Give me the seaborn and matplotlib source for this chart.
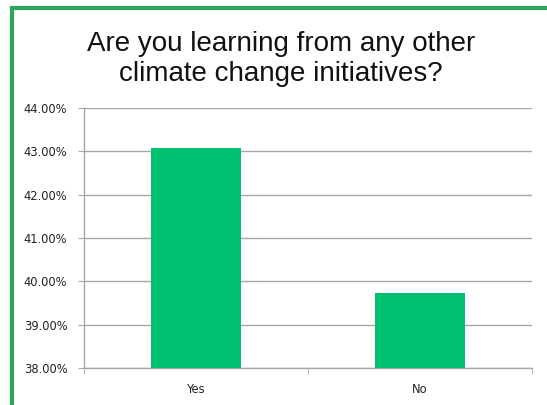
import matplotlib
matplotlib.use("Agg")
import matplotlib.pyplot as plt
import matplotlib.patches as patches
from matplotlib.ticker import FuncFormatter, FixedLocator
import seaborn as sns
import pandas as pd

categories = ["Yes", "No"]
values = [43.08, 39.74]
title = "Are you learning from any other\nclimate change initiatives?"

W, H = 547, 405
sns.set_style("white")
plt.rcParams["font.family"] = ["Liberation Sans", "DejaVu Sans"]

fig = plt.figure(figsize=(W / 100, H / 100), dpi=100)
# axes box in pixels: x 84..532, y 108..368
ax = fig.add_axes([84 / W, 1 - 368 / H, (532 - 84) / W, (368 - 108) / H])

df = pd.DataFrame({"answer": categories, "pct": values})
sns.barplot(data=df, x="answer", y="pct", color="#00BF6F", saturation=1,
            width=0.4, ax=ax, zorder=3, edgecolor="none", linewidth=0)

ax.set_ylim(38, 44)
ax.set_xlim(-0.5, 1.5)
ax.set_yticks(range(38, 45))
ax.yaxis.set_major_formatter(FuncFormatter(lambda v, p: f"{v:.2f}%"))
ax.grid(axis="y", color="#a6a6a6", linewidth=1, zorder=0)
ax.set_xlabel("")
ax.set_ylabel("")

for s in ["top", "right"]:
    ax.spines[s].set_visible(False)
for s in ["left", "bottom"]:
    ax.spines[s].set_color("#a6a6a6")
    ax.spines[s].set_linewidth(1)

ax.tick_params(axis="y", length=4, color="#a6a6a6", labelsize=8.3,
               labelcolor="#222222", pad=8, left=True)
ax.tick_params(axis="x", length=0, labelsize=8.3, labelcolor="#222222", pad=11)
ax.xaxis.set_minor_locator(FixedLocator([-0.5, 0.5, 1.5]))
ax.tick_params(axis="x", which="minor", length=4, color="#a6a6a6", bottom=True)

for lbl in ax.get_yticklabels() + ax.get_xticklabels():
    lbl.set_family(["DejaVu Sans"])

fig.text(281 / W, 1 - 59 / H, title, ha="center", va="center",
         fontsize=20, color="#111111", linespacing=1.18)

# green frame around the chart, running off the right and bottom edges
frame = patches.Rectangle((12 / W, -0.05), 1.0, 1 - 8 / H + 0.05,
                          transform=fig.transFigure, fill=False,
                          edgecolor="#2EA55A", linewidth=3, clip_on=False)
fig.patches.append(frame)

fig.savefig("out.png", dpi=100)
